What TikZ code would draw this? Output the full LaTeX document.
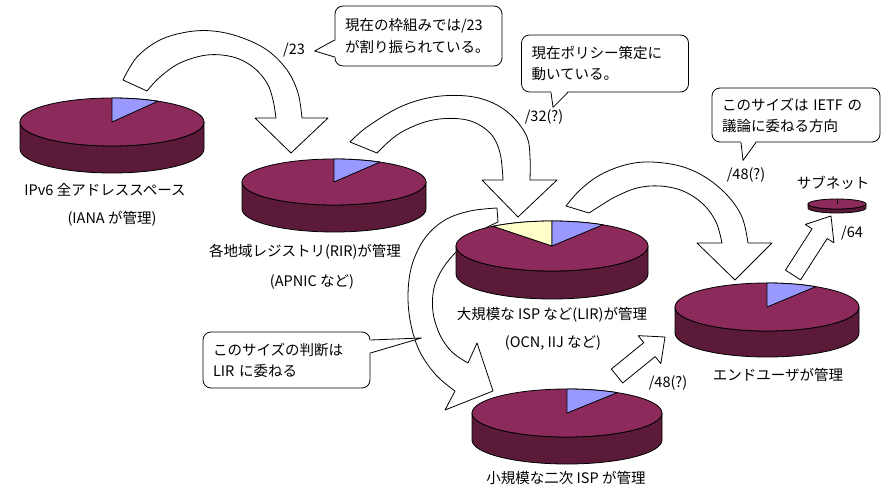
\documentclass[tikz,border=0pt]{standalone}
\usepackage{fontspec}
\setmainfont{Noto Sans CJK JP}
\usetikzlibrary{calc}
\definecolor{pietopc}{RGB}{140,42,92}
\definecolor{piesidec}{RGB}{90,26,56}
\definecolor{wedgeblue}{RGB}{153,153,255}
\definecolor{wedgeyellow}{RGB}{255,255,204}
\tikzset{
  outline/.style={draw=black, line width=0.8pt, line join=round},
  pietop/.style={outline, fill=pietopc},
  pieside/.style={outline, fill=piesidec},
  bluewedge/.style={outline, fill=wedgeblue},
  yellowwedge/.style={outline, fill=wedgeyellow},
  bigarrow/.style={outline, fill=white},
  lbl/.style={inner sep=0pt, font=\fontsize{14.5}{17}\selectfont},
  callbox/.style={outline, fill=white, rounded corners=8pt, inner xsep=10pt, inner ysep=0pt,
    align=left, font=\fontsize{14.5}{21}\selectfont, text width=147pt, minimum width=167pt},
}
% #1 name, #2 cx, #3 cy, #4 rx, #5 ry, #6 thickness
\newcommand\piedisk[6]{%
  \coordinate (#1) at (#2,#3);
  \filldraw[pieside] ($(#1)+(-#4,0)$) -- ++(0,#6)
     arc[start angle=180,end angle=360,x radius=#4pt,y radius=#5pt] -- ++(0,-#6)
     arc[start angle=0,end angle=-180,x radius=#4pt,y radius=#5pt] -- cycle;
  \filldraw[pietop] (#1) ellipse[x radius=#4pt, y radius=#5pt];
}
% #1 style, #2 centre, #3 rx, #4 ry, #5 start, #6 end
\newcommand\piewedge[6]{%
  \filldraw[#1] (#2) -- ++(#5:#3pt and #4pt)
     arc[start angle=#5, end angle=#6, x radius=#3pt, y radius=#4pt] -- cycle;
}
% #1 tail, #2 tip, #3 half shaft, #4 half head, #5 head length
\newcommand\flatarrow[5]{%
  \coordinate (fa-h) at ($(#2)!#5!(#1)$);
  \filldraw[bigarrow] ($(#1)!#3!90:(#2)$) -- ($(fa-h)!#3!90:(#2)$) -- ($(fa-h)!#4!90:(#2)$)
     -- (#2) -- ($(fa-h)!#4!-90:(#2)$) -- ($(fa-h)!#3!-90:(#2)$) -- ($(#1)!#3!-90:(#2)$) -- cycle;
}
\begin{document}
\begin{tikzpicture}[x=1pt,y=-1pt]
\fill[white] (0,0) rectangle (888,497);
\useasboundingbox (0,0) rectangle (888,497);

% ---- big curved arrows ----
% IANA -> RIR
\filldraw[bigarrow] plot[smooth,tension=0.6] coordinates {(123,80) (137,57) (160,40) (187,32) (213,31) (240,37) (267,50) (287,70) (298,93) (302,118)}
  -- (328,118) -- (291,153) -- (255,118)
  -- plot[smooth,tension=0.6] coordinates {(276,118) (273,100) (267,83) (253,67) (233,57) (207,55) (180,63) (160,77) (147,91)} -- cycle;
% RIR -> LIR
\filldraw[bigarrow] plot[smooth,tension=0.6] coordinates {(350,142) (367,127) (400,107) (433,97) (467,96) (493,103) (513,117) (527,137) (530,157) (530,180)}
  -- (557,180) -- (518,217) -- (482,180)
  -- plot[smooth,tension=0.6] coordinates {(503,180) (500,153) (490,133) (467,120) (433,120) (400,133) (377,153)} -- cycle;
% LIR -> end user
\filldraw[bigarrow] plot[smooth,tension=0.6] coordinates {(566,206) (580,190) (600,175) (625,165) (650,162) (680,166) (705,177) (727,195) (742,217) (748,243)}
  -- (772,243) -- (735,280) -- (697,243)
  -- plot[smooth,tension=0.6] coordinates {(722,243) (716,222) (703,204) (683,191) (660,186) (637,188) (615,197) (600,206) (589,213)} -- cycle;
% LIR -> small ISP
\filldraw[bigarrow] plot[smooth,tension=0.6] coordinates {(497,208) (470,211) (445,220) (425,238) (412,265) (408,295) (411,325) (420,352) (436,375) (455,391)}
  -- (445,410) -- (493,391) -- (477,343)
  -- plot[smooth,tension=0.6] coordinates {(468,363) (452,352) (440,335) (433,312) (434,288) (443,268) (458,250) (477,233) (498,222)} -- cycle;

% ---- small straight arrows ----
\coordinate (eT) at (617,376); \coordinate (eP) at (665,337);
\flatarrow{eT}{eP}{9pt}{18pt}{20pt}
\coordinate (fT) at (793,275); \coordinate (fP) at (831,216);
\flatarrow{fT}{fP}{9pt}{17pt}{21pt}

% ---- pies ----
\piedisk{p1}{112}{122}{92}{24}{27}
\piewedge{bluewedge}{p1}{92}{24}{60}{90}
\piedisk{p2}{334}{182}{92}{23}{27}
\piewedge{bluewedge}{p2}{92}{23}{60}{90}
\piedisk{p3}{552}{246}{96}{25}{28}
\piewedge{yellowwedge}{p3}{96}{25}{90}{128}
\piewedge{bluewedge}{p3}{96}{25}{58}{90}
\piedisk{p4}{767}{307}{92}{24}{26}
\piewedge{bluewedge}{p4}{92}{24}{58}{90}
\piedisk{p6}{567}{413}{95}{24}{27}
\piewedge{bluewedge}{p6}{95}{24}{58}{90}
\piedisk{p5}{837}{204}{29}{5}{4}
\draw[outline] (p5) -- ++(0,-5);

% ---- labels ----
\node[lbl] (t1) at (105,190) {IPv6 全アドレススペース};
\node[lbl] (t2) at (112,219) {(IANA が管理)};
\node[lbl] (t3) at (305,252) {各地域レジストリ(RIR)が管理};
\node[lbl] (t4) at (312,282) {(APNIC など)};
\node[lbl] (t5) at (552,315) {大規模な ISP など(LIR)が管理};
\node[lbl] (t6) at (553,343) {(OCN, IIJ など)};
\node[lbl] (t7) at (778,375) {エンドユーザが管理};
\node[lbl] (t8) at (833,183) {サブネット};
\node[lbl] (t9) at (566,478) {小規模な二次 ISP が管理};
\node[lbl] (s23) at (294,50) {/23};
\node[lbl] (s32) at (544,117) {/32(?)};
\node[lbl] (s48a) at (746,175) {/48(?)};
\node[lbl] (s48b) at (668,383) {/48(?)};
\node[lbl] (s64) at (852,233) {/64};

% ---- callouts ----
\node[callbox, minimum height=60pt] (c1) at (418.5,36) {現在の枠組みでは/23\\が割り振られている。};
\fill[white] ($(c1.west)+(2,4)$) -- ($(c1.west)+(-20,15)$) -- ($(c1.west)+(2,21)$) -- cycle;
\draw[outline] ($(c1.west)+(0,4)$) -- ($(c1.west)+(-20,15)$) -- ($(c1.west)+(0,21)$);

\node[callbox, minimum height=57pt] (c2) at (605,63.5) {現在ポリシー策定に\\動いている。};
\fill[white] ($(c2.south)+(-54,-2)$) -- ($(c2.south)+(-52,15)$) -- ($(c2.south)+(-37,-2)$) -- cycle;
\draw[outline] ($(c2.south)+(-54,0)$) -- ($(c2.south)+(-52,15)$) -- ($(c2.south)+(-37,0)$);

\node[callbox, minimum height=54pt, text width=148pt, minimum width=168pt] (c3) at (796,115) {このサイズは IETF の\\議論に委ねる方向};
\fill[white] ($(c3.south)+(-55,-2)$) -- ($(c3.south)+(-53,18)$) -- ($(c3.south)+(-40,-2)$) -- cycle;
\draw[outline] ($(c3.south)+(-55,0)$) -- ($(c3.south)+(-53,18)$) -- ($(c3.south)+(-40,0)$);

\node[callbox, minimum height=56pt] (c4) at (286.5,360) {このサイズの判断は\\LIR に委ねる};
\fill[white] ($(c4.east)+(-2,-20)$) -- ($(c4.east)+(51,-22)$) -- ($(c4.east)+(-2,-7)$) -- cycle;
\draw[outline] ($(c4.east)+(0,-20)$) -- ($(c4.east)+(51,-22)$) -- ($(c4.east)+(0,-7)$);
\end{tikzpicture}
\end{document}
